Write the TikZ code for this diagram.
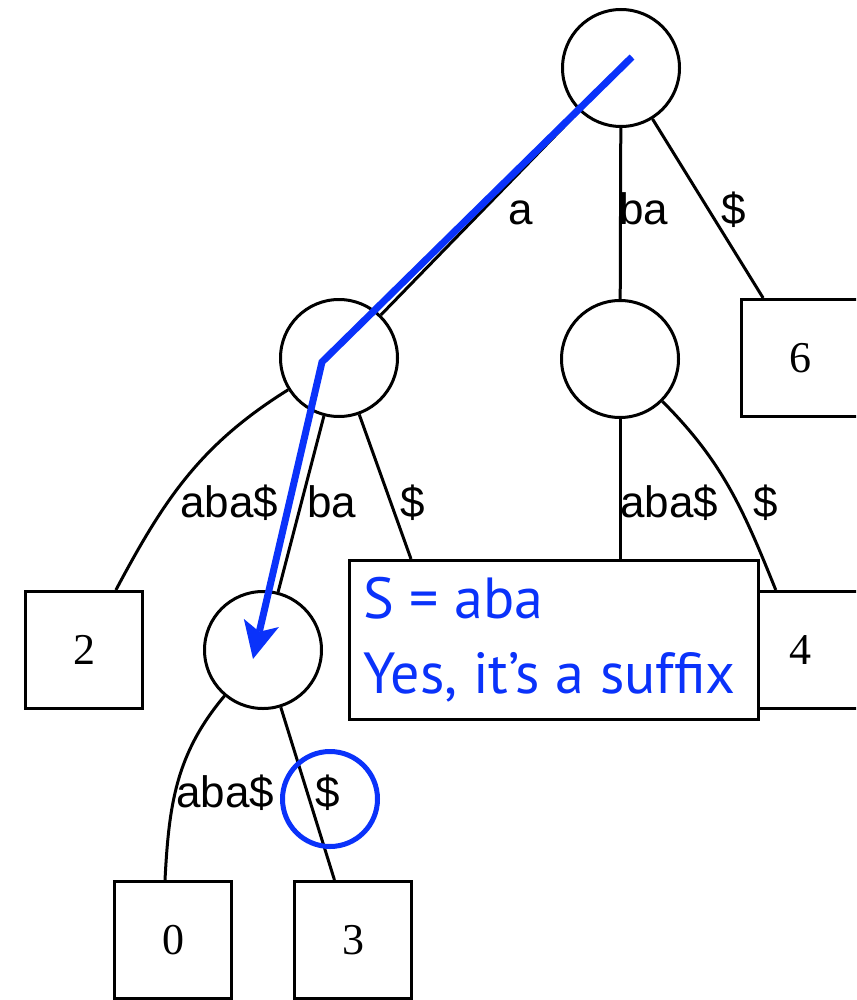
\documentclass[tikz,border=0pt]{standalone}
\usepackage{fontspec}
\setmainfont{Liberation Serif}
\newfontfamily\lblfont{Liberation Sans}
\newfontfamily\callfont{PT Sans}
\usetikzlibrary{arrows.meta}
\definecolor{pathblue}{RGB}{10,50,250}
\begin{document}
\begin{tikzpicture}[x=1pt,y=1pt,
  innernode/.style={circle,draw,line width=3pt,minimum size=117pt,inner sep=0pt},
  leaf/.style={rectangle,draw,line width=3pt,minimum size=117pt,inner sep=0pt,font=\fontsize{44}{50}\selectfont},
  edge/.style={line width=3pt},
  lbl/.style={anchor=base west,inner sep=0pt,font=\lblfont\fontsize{44}{50}\selectfont},
  calloutbox/.style={rectangle,draw,line width=2.6pt,fill=white,minimum width=409pt,minimum height=159pt,inner sep=0pt},
  calltext/.style={anchor=base west,inner sep=0pt,text=pathblue,font=\callfont\fontsize{58}{70}\selectfont},
  bluepath/.style={draw=pathblue,line width=7pt,line join=miter,-{Stealth[length=37pt,width=36pt,inset=9pt,line width=0pt]}},
  hilite/.style={circle,draw=pathblue,line width=5pt,minimum size=95pt,inner sep=0pt}]
\useasboundingbox (0,0) rectangle (856,-1000);
\clip (0,0) rectangle (856,-1000);
% inner nodes
\node[innernode] (root) at (621,-68) {};
\node[innernode] (A) at (339,-358) {};
\node[innernode] (B) at (620,-359) {};
\node[innernode] (C) at (263,-650) {};
% leaves
\node[leaf] (b6) at (800,-358) {6};
\node[leaf] (b2) at (84,-650) {2};
\node[leaf] (b4) at (800,-650) {4};
\node[leaf] (b0) at (173,-940) {0};
\node[leaf] (b3) at (353,-940) {3};
% hidden ends under the callout
\coordinate (h1) at (411,-559);
\coordinate (h5) at (620,-559);
% edges
\draw[edge] (root) -- (A);
\draw[edge] (root) -- (B);
\draw[edge] (root) -- (b6);
\draw[edge] (A) to[out=212,in=62] (b2);
\draw[edge] (A) -- (C);
\draw[edge] (A) -- (h1);
\draw[edge] (B) -- (h5);
\draw[edge] (B) to[out=-45,in=112] (b4);
\draw[edge] (C) to[out=230,in=87] ([xshift=-8pt]b0.north);
\draw[edge] (C) -- (b3);
% edge labels
\node[lbl] (la) at (508,-225) {a};
\node[lbl] (lba) at (619,-225) {ba};
\node[lbl] (ld6) at (721,-225) {\$};
\node[lbl] (laba2) at (180,-517) {aba\$};
\node[lbl] (lbaC) at (307,-517) {ba};
\node[lbl] (ld1) at (400,-517) {\$};
\node[lbl] (laba5) at (620,-517) {aba\$};
\node[lbl] (ld4) at (753,-517) {\$};
\node[lbl] (laba0) at (176,-807) {aba\$};
\node[lbl] (ld3) at (315,-807) {\$};
% highlight circle
\node[hilite] (hl) at (330,-799) {};
% search path
\coordinate (p0) at (632,-57);
\coordinate (p1) at (322,-362);
\coordinate (p2) at (253,-659);
\draw[bluepath] (p0) -- (p1) -- (p2);
% callout
\node[calloutbox] (callout) at (554,-640) {};
\node[calltext] (s1) at (363,-618) {S = aba};
\node[calltext] (s2) at (363,-693) {Yes, it’s a suffix};
\end{tikzpicture}
\end{document}
